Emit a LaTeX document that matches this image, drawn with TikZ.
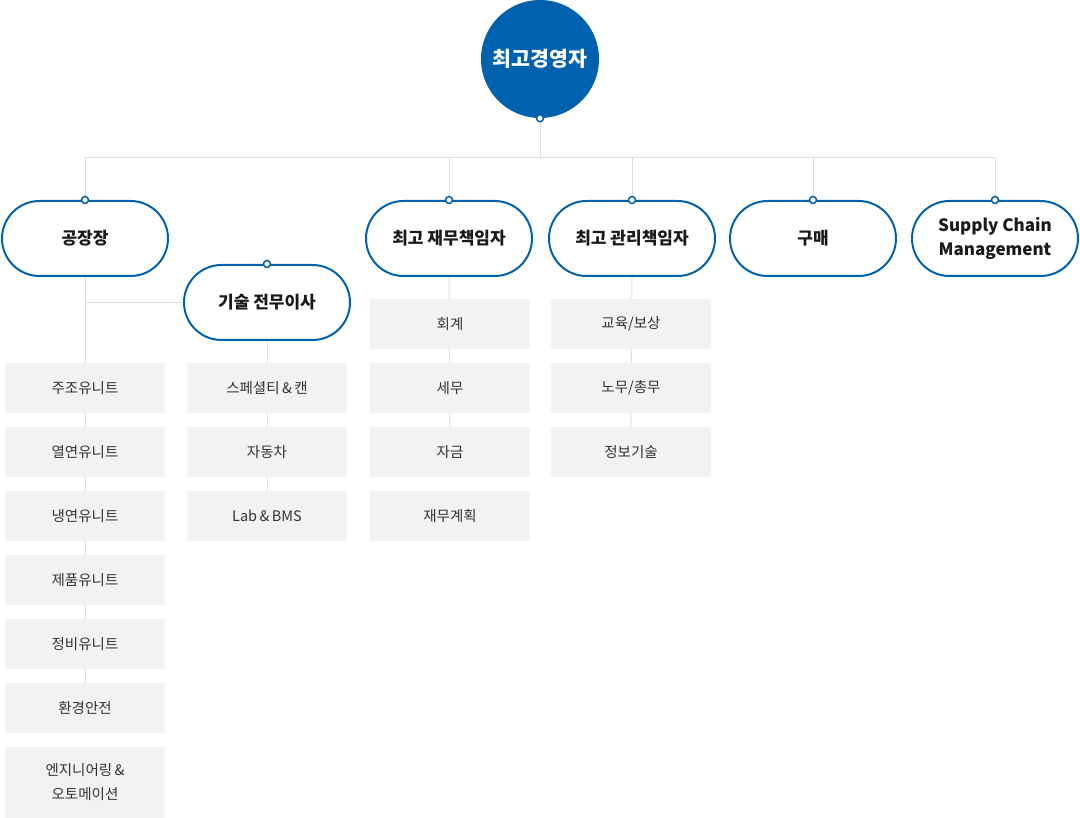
\documentclass[tikz,border=0pt]{standalone}
\usepackage{fontspec}
\setmainfont{Noto Sans CJK KR}
\usetikzlibrary{backgrounds}
\definecolor{brand}{HTML}{0062AE}
\definecolor{boxfill}{HTML}{F2F2F2}
\definecolor{linegray}{HTML}{DDDDDD}
\definecolor{pilltext}{HTML}{1A1A1A}
\definecolor{unittext}{HTML}{333333}
\begin{document}
\begin{tikzpicture}[x=1pt,y=-1pt,
 pill/.style={draw=brand, line width=2pt, fill=white, rounded corners=37.5pt, minimum width=166pt, minimum height=75pt, inner sep=0pt, align=center, font=\bfseries\fontsize{17}{23.5}\selectfont, text=pilltext},
 unit/.style={fill=boxfill, minimum width=160pt, minimum height=50pt, inner sep=0pt, align=center, font=\fontsize{14.5}{24}\selectfont, text=unittext},
 dot/.style={circle, draw=brand, fill=white, line width=1.5pt, minimum size=7pt, inner sep=0pt},
 link/.style={draw=linegray, line width=1pt}]
\useasboundingbox (0,0) rectangle (1080,818);

% top
\node[circle, fill=brand, minimum size=118pt, inner sep=0pt, text=white, font=\bfseries\fontsize{20.5}{24}\selectfont] (ceo) at (540,59) {최고경영자};

% pills
\node[pill] (f) at (85,238.5) {공장장};
\node[pill] (t) at (267,302.5) {기술 전무이사};
\node[pill] (cfo) at (449,238.5) {최고 재무책임자};
\node[pill] (cao) at (632,238.5) {최고 관리책임자};
\node[pill] (buy) at (813,238.5) {구매};
\node[pill] (scm) at (995,238.5) {Supply Chain\\Management};

% unit boxes
\node[unit] (a1) at (85,388) {주조유니트};
\node[unit] (a2) at (85,452) {열연유니트};
\node[unit] (a3) at (85,516) {냉연유니트};
\node[unit] (a4) at (85,580) {제품유니트};
\node[unit] (a5) at (85,644) {정비유니트};
\node[unit] (a6) at (85,708) {환경안전};
\node[unit, minimum height=71pt] (a7) at (85,782.5) {엔지니어링\,\&\\오토메이션};

\node[unit] (b1) at (267,388) {스페셜티\,\&\,캔};
\node[unit] (b2) at (267,452) {자동차};
\node[unit] (b3) at (267,516) {Lab\,\&\,BMS};

\node[unit] (c1) at (450,324) {회계};
\node[unit] (c2) at (450,388) {세무};
\node[unit] (c3) at (450,452) {자금};
\node[unit] (c4) at (450,516) {재무계획};

\node[unit] (d1) at (631,324) {교육/보상};
\node[unit] (d2) at (631,388) {노무/총무};
\node[unit] (d3) at (631,452) {정보기술};

\coordinate (bus) at (540,158);

\begin{scope}[on background layer]
  \draw[link] (ceo.south) -- (ceo.south |- bus);
  \draw[link] (f.north |- bus) -- (scm.north |- bus);
  \foreach \n in {f,cfo,cao,buy,scm}
    \draw[link] (\n.north |- bus) -- (\n.north);
  \draw[link] (f.south) -- (a6.north);
  \draw[link] (f.south |- t.west) -- (t.west);
  \draw[link] (t.south) -- (b3.north);
  \draw[link] (cfo.south) -- (c3.north);
  \draw[link] (cao.south) -- (d3.north);
\end{scope}

% dots
\node[dot] (ceodot) at (ceo.south) {};
\foreach \n in {f,t,cfo,cao,buy,scm}
  \node[dot] (\n dot) at (\n.north) {};
\end{tikzpicture}
\end{document}
